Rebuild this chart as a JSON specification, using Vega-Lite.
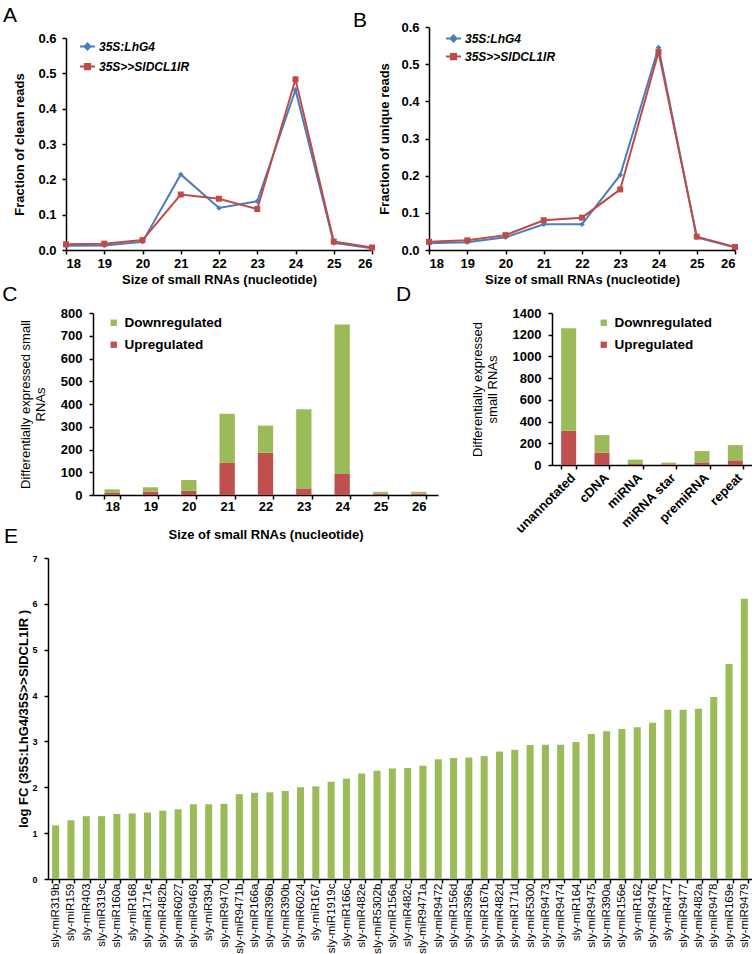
{
  "$schema": "https://vega.github.io/schema/vega-lite/v6.json",
  "background": "white",
  "padding": {"left": 2, "top": 4, "right": 0, "bottom": 0},
  "config": {
    "font": "Liberation Sans",
    "view": {"stroke": null},
    "axis": {"labelFont": "Liberation Sans", "titleFont": "Liberation Sans", "labelFontWeight": "bold", "titleFontWeight": "bold", "labelFontSize": 13, "titleFontSize": 13, "labelColor": "#000", "titleColor": "#000", "domainColor": "#000", "tickColor": "#000", "grid": false, "domainWidth": 1.5, "tickWidth": 1.5, "tickSize": 4, "labelPadding": 3, "titlePadding": 3},
    "title": {"font": "Liberation Sans", "fontSize": 21, "fontWeight": "normal", "anchor": "start", "frame": "bounds", "color": "#000"},
    "legend": {"labelFont": "Liberation Sans", "labelFontWeight": "bold", "labelFontSize": 12, "labelColor": "#000", "title": null, "padding": 0}
  },
  "datasets": {
    "empty": [],
    "clean": [
      {"size": 18, "genotype": "35S:LhG4", "value": 0.012},
      {"size": 19, "genotype": "35S:LhG4", "value": 0.013},
      {"size": 20, "genotype": "35S:LhG4", "value": 0.023},
      {"size": 21, "genotype": "35S:LhG4", "value": 0.214},
      {"size": 22, "genotype": "35S:LhG4", "value": 0.119},
      {"size": 23, "genotype": "35S:LhG4", "value": 0.138},
      {"size": 24, "genotype": "35S:LhG4", "value": 0.453},
      {"size": 25, "genotype": "35S:LhG4", "value": 0.020},
      {"size": 26, "genotype": "35S:LhG4", "value": 0.005},
      {"size": 18, "genotype": "35S>>SlDCL1IR", "value": 0.016},
      {"size": 19, "genotype": "35S>>SlDCL1IR", "value": 0.018},
      {"size": 20, "genotype": "35S>>SlDCL1IR", "value": 0.028},
      {"size": 21, "genotype": "35S>>SlDCL1IR", "value": 0.157},
      {"size": 22, "genotype": "35S>>SlDCL1IR", "value": 0.145},
      {"size": 23, "genotype": "35S>>SlDCL1IR", "value": 0.116},
      {"size": 24, "genotype": "35S>>SlDCL1IR", "value": 0.483},
      {"size": 25, "genotype": "35S>>SlDCL1IR", "value": 0.024},
      {"size": 26, "genotype": "35S>>SlDCL1IR", "value": 0.007}
    ],
    "unique": [
      {"size": 18, "genotype": "35S:LhG4", "value": 0.018},
      {"size": 19, "genotype": "35S:LhG4", "value": 0.021},
      {"size": 20, "genotype": "35S:LhG4", "value": 0.034},
      {"size": 21, "genotype": "35S:LhG4", "value": 0.069},
      {"size": 22, "genotype": "35S:LhG4", "value": 0.069},
      {"size": 23, "genotype": "35S:LhG4", "value": 0.202},
      {"size": 24, "genotype": "35S:LhG4", "value": 0.545},
      {"size": 25, "genotype": "35S:LhG4", "value": 0.034},
      {"size": 26, "genotype": "35S:LhG4", "value": 0.007},
      {"size": 18, "genotype": "35S>>SlDCL1IR", "value": 0.022},
      {"size": 19, "genotype": "35S>>SlDCL1IR", "value": 0.026},
      {"size": 20, "genotype": "35S>>SlDCL1IR", "value": 0.040},
      {"size": 21, "genotype": "35S>>SlDCL1IR", "value": 0.080},
      {"size": 22, "genotype": "35S>>SlDCL1IR", "value": 0.087},
      {"size": 23, "genotype": "35S>>SlDCL1IR", "value": 0.163},
      {"size": 24, "genotype": "35S>>SlDCL1IR", "value": 0.533},
      {"size": 25, "genotype": "35S>>SlDCL1IR", "value": 0.036},
      {"size": 26, "genotype": "35S>>SlDCL1IR", "value": 0.008}
    ],
    "bysize": [
      {"size": "18", "reg": "Upregulated", "count": 9},
      {"size": "18", "reg": "Downregulated", "count": 16},
      {"size": "19", "reg": "Upregulated", "count": 15},
      {"size": "19", "reg": "Downregulated", "count": 19},
      {"size": "20", "reg": "Upregulated", "count": 18},
      {"size": "20", "reg": "Downregulated", "count": 48},
      {"size": "21", "reg": "Upregulated", "count": 141},
      {"size": "21", "reg": "Downregulated", "count": 216},
      {"size": "22", "reg": "Upregulated", "count": 186},
      {"size": "22", "reg": "Downregulated", "count": 119},
      {"size": "23", "reg": "Upregulated", "count": 29},
      {"size": "23", "reg": "Downregulated", "count": 348},
      {"size": "24", "reg": "Upregulated", "count": 92},
      {"size": "24", "reg": "Downregulated", "count": 657},
      {"size": "25", "reg": "Upregulated", "count": 5},
      {"size": "25", "reg": "Downregulated", "count": 9},
      {"size": "26", "reg": "Upregulated", "count": 6},
      {"size": "26", "reg": "Downregulated", "count": 8}
    ],
    "bytype": [
      {"type": "unannotated", "reg": "Upregulated", "count": 315},
      {"type": "unannotated", "reg": "Downregulated", "count": 945},
      {"type": "cDNA", "reg": "Upregulated", "count": 113},
      {"type": "cDNA", "reg": "Downregulated", "count": 162},
      {"type": "miRNA", "reg": "Upregulated", "count": 9},
      {"type": "miRNA", "reg": "Downregulated", "count": 40},
      {"type": "miRNA star", "reg": "Upregulated", "count": 6},
      {"type": "miRNA star", "reg": "Downregulated", "count": 15},
      {"type": "premiRNA", "reg": "Upregulated", "count": 24},
      {"type": "premiRNA", "reg": "Downregulated", "count": 104},
      {"type": "repeat", "reg": "Upregulated", "count": 43},
      {"type": "repeat", "reg": "Downregulated", "count": 140}
    ],
    "mirna": [
      {"name": "sly-miR319b", "fc": 1.17},
      {"name": "sly-miR159", "fc": 1.28},
      {"name": "sly-miR403", "fc": 1.37},
      {"name": "sly-miR319c", "fc": 1.37},
      {"name": "sly-miR160a", "fc": 1.42},
      {"name": "sly-miR168", "fc": 1.43},
      {"name": "sly-miR171e", "fc": 1.45},
      {"name": "sly-miR482b", "fc": 1.49},
      {"name": "sly-miR6027", "fc": 1.52},
      {"name": "sly-miR9469", "fc": 1.63},
      {"name": "sly-miR394", "fc": 1.63},
      {"name": "sly-miR9470", "fc": 1.64},
      {"name": "sly-miR9471b", "fc": 1.85},
      {"name": "sly-miR166a", "fc": 1.88},
      {"name": "sly-miR396b", "fc": 1.89},
      {"name": "sly-miR390b", "fc": 1.92},
      {"name": "sly-miR6024", "fc": 2.0},
      {"name": "sly-miR167", "fc": 2.02},
      {"name": "sly-miR1919c", "fc": 2.12},
      {"name": "sly-miR166c", "fc": 2.19},
      {"name": "sly-miR482e", "fc": 2.3},
      {"name": "sly-miR5302b", "fc": 2.36},
      {"name": "sly-miR156a", "fc": 2.41},
      {"name": "sly-miR482c", "fc": 2.42},
      {"name": "sly-miR9471a", "fc": 2.47},
      {"name": "sly-miR9472", "fc": 2.61},
      {"name": "sly-miR156d", "fc": 2.64},
      {"name": "sly-miR396a", "fc": 2.65},
      {"name": "sly-miR167b", "fc": 2.68},
      {"name": "sly-miR482d", "fc": 2.78},
      {"name": "sly-miR171d", "fc": 2.82},
      {"name": "sly-miR5300", "fc": 2.92},
      {"name": "sly-miR9473", "fc": 2.93},
      {"name": "sly-miR9474", "fc": 2.93},
      {"name": "sly-miR164", "fc": 2.99},
      {"name": "sly-miR9475", "fc": 3.16},
      {"name": "sly-miR390a", "fc": 3.22},
      {"name": "sly-miR156e", "fc": 3.27},
      {"name": "sly-miR162", "fc": 3.31},
      {"name": "sly-miR9476", "fc": 3.41},
      {"name": "sly-miR477", "fc": 3.69},
      {"name": "sly-miR9477", "fc": 3.69},
      {"name": "sly-miR482a", "fc": 3.71},
      {"name": "sly-miR9478", "fc": 3.97},
      {"name": "sly-miR169e", "fc": 4.69},
      {"name": "sly-miR9479", "fc": 6.11}
    ]
  },
  "vconcat": [
    {
      "vconcat": [
        {
          "hconcat": [
            {"width": 24, "height": 1, "data": {"name": "empty"}, "mark": "point", "encoding": {}},
            {
              "title": {"text": "A", "dx": -11, "offset": 1.5},
              "width": 306, "height": 223,
              "data": {"name": "clean"},
              "encoding": {
                "x": {"field": "size", "type": "quantitative", "scale": {"domain": [18, 26], "nice": false}, "axis": {"values": [18, 19, 20, 21, 22, 23, 24, 25, 26], "format": "d", "title": "Size of small RNAs (nucleotide)"}},
                "y": {"field": "value", "type": "quantitative", "scale": {"domain": [0, 0.6], "nice": false, "range": [223, 11]}, "axis": {"values": [0, 0.1, 0.2, 0.3, 0.4, 0.5, 0.6], "format": ".1f", "title": "Fraction of clean reads", "labelPadding": 6, "titlePadding": 11}},
                "color": {"field": "genotype", "type": "nominal", "scale": {"domain": ["35S:LhG4", "35S>>SlDCL1IR"], "range": ["#4a7ebb", "#be4b48"]}, "legend": {"orient": "none", "legendX": 13, "legendY": 11, "labelFontStyle": "italic", "symbolSize": 225, "symbolStrokeWidth": 2, "rowPadding": 4, "labelOffset": 3, "symbolType": "M-1,0H1M-0.35,-0.35H0.35V0.35H-0.35Z", "encode": {"symbols": {"update": {"shape": {"signal": "datum.value === '35S:LhG4' ? 'M-1,0H1M0,-0.4L0.4,0L0,0.4L-0.4,0Z' : 'M-1,0H1M-0.35,-0.35H0.35V0.35H-0.35Z'"}, "fill": {"signal": "datum.value === '35S:LhG4' ? '#4a7ebb' : '#be4b48'"}, "fillOpacity": {"value": 1}}}}}}
              },
              "layer": [
                {"mark": {"type": "line", "strokeWidth": 2}},
                {"transform": [{"filter": "datum.genotype === '35S:LhG4'"}], "mark": {"type": "point", "shape": "diamond", "filled": true, "opacity": 1, "size": 30}},
                {"transform": [{"filter": "datum.genotype === '35S>>SlDCL1IR'"}], "mark": {"type": "point", "shape": "square", "filled": true, "opacity": 1, "size": 36}}
              ]
            },
            {
              "title": {"text": "B", "dx": -26, "offset": -9.5},
              "width": 306, "height": 223,
              "data": {"name": "unique"},
              "encoding": {
                "x": {"field": "size", "type": "quantitative", "scale": {"domain": [18, 26], "nice": false}, "axis": {"values": [18, 19, 20, 21, 22, 23, 24, 25, 26], "format": "d", "title": "Size of small RNAs (nucleotide)"}},
                "y": {"field": "value", "type": "quantitative", "scale": {"domain": [0, 0.6], "nice": false}, "axis": {"values": [0, 0.1, 0.2, 0.3, 0.4, 0.5, 0.6], "format": ".1f", "title": "Fraction of unique reads", "labelPadding": 6, "titlePadding": 9}},
                "color": {"field": "genotype", "type": "nominal", "scale": {"domain": ["35S:LhG4", "35S>>SlDCL1IR"], "range": ["#4a7ebb", "#be4b48"]}, "legend": {"orient": "none", "legendX": 16, "legendY": 3, "labelFontStyle": "italic", "symbolSize": 225, "symbolStrokeWidth": 2, "rowPadding": 2, "labelOffset": 3, "symbolType": "M-1,0H1M-0.35,-0.35H0.35V0.35H-0.35Z", "encode": {"symbols": {"update": {"shape": {"signal": "datum.value === '35S:LhG4' ? 'M-1,0H1M0,-0.4L0.4,0L0,0.4L-0.4,0Z' : 'M-1,0H1M-0.35,-0.35H0.35V0.35H-0.35Z'"}, "fill": {"signal": "datum.value === '35S:LhG4' ? '#4a7ebb' : '#be4b48'"}, "fillOpacity": {"value": 1}}}}}}
              },
              "layer": [
                {"mark": {"type": "line", "strokeWidth": 2}},
                {"transform": [{"filter": "datum.genotype === '35S:LhG4'"}], "mark": {"type": "point", "shape": "diamond", "filled": true, "opacity": 1, "size": 30}},
                {"transform": [{"filter": "datum.genotype === '35S>>SlDCL1IR'"}], "mark": {"type": "point", "shape": "square", "filled": true, "opacity": 1, "size": 36}}
              ]
            }
          ],
          "spacing": -24,
          "resolve": {"scale": {"color": "independent"}, "legend": {"color": "independent"}}
        },
        {
          "hconcat": [
            {"width": 42, "height": 1, "data": {"name": "empty"}, "mark": "point", "encoding": {}},
            {
              "title": {"text": "C", "dx": -17, "offset": 2.5},
              "width": 345, "height": 182,
              "data": {"name": "bysize"},
              "mark": {"type": "bar"},
              "encoding": {
                "x": {"field": "size", "type": "ordinal", "scale": {"paddingInner": 0.6, "paddingOuter": 0.3}, "axis": {"labelAngle": 0, "tickBand": "extent", "title": "Size of small RNAs (nucleotide)", "labelPadding": 1, "titlePadding": 15}},
                "y": {"field": "count", "type": "quantitative", "stack": "zero", "scale": {"domain": [0, 800], "nice": false}, "axis": {"values": [0, 100, 200, 300, 400, 500, 600, 700, 800], "format": "d", "title": ["Differentially expressed small", "RNAs"], "titleFontWeight": "normal", "labelPadding": 7, "titlePadding": 13}},
                "color": {"field": "reg", "type": "nominal", "scale": {"domain": ["Downregulated", "Upregulated"], "range": ["#9bbb59", "#c0504d"]}, "legend": {"orient": "none", "legendX": 14, "legendY": 3, "labelFontSize": 13.5, "symbolType": "square", "symbolSize": 40, "rowPadding": 7, "labelOffset": 4}},
                "order": {"field": "reg", "sort": "descending"}
              }
            },
            {
              "title": {"text": "D", "dx": -75, "offset": 2},
              "width": 200, "height": 152,
              "data": {"name": "bytype"},
              "mark": {"type": "bar"},
              "encoding": {
                "x": {"field": "type", "type": "nominal", "sort": null, "scale": {"paddingInner": 0.55, "paddingOuter": 0.275}, "axis": {"labelAngle": -45, "tickBand": "extent", "title": null, "labelPadding": 2}},
                "y": {"field": "count", "type": "quantitative", "stack": "zero", "scale": {"domain": [0, 1400], "nice": false}, "axis": {"values": [0, 200, 400, 600, 800, 1000, 1200, 1400], "format": "d", "title": ["Differentially expressed", "small RNAs"], "titleFontWeight": "normal", "labelPadding": 7, "titlePadding": 13}},
                "color": {"field": "reg", "type": "nominal", "scale": {"domain": ["Downregulated", "Upregulated"], "range": ["#9bbb59", "#c0504d"]}, "legend": {"orient": "none", "legendX": 45, "legendY": 3, "labelFontSize": 13.5, "symbolType": "square", "symbolSize": 40, "rowPadding": 7, "labelOffset": 4}},
                "order": {"field": "reg", "sort": "descending"}
              }
            }
          ],
          "spacing": -42,
          "resolve": {"scale": {"color": "independent"}, "legend": {"color": "independent"}}
        }
      ],
      "spacing": -3
    },
    {
      "hconcat": [
        {"width": 1, "height": 1, "data": {"name": "empty"}, "mark": "point", "encoding": {}},
        {
          "title": {"text": "E", "dx": -14, "offset": 7.5},
          "width": 704, "height": 321,
          "data": {"name": "mirna"},
          "mark": {"type": "bar", "color": "#9bbb59"},
          "encoding": {
            "x": {"field": "name", "type": "nominal", "sort": null, "scale": {"paddingInner": 0.54, "paddingOuter": 0.27}, "axis": {"labelAngle": -90, "tickBand": "extent", "title": null, "labelFontWeight": "normal", "labelFontSize": 11.5, "tickSize": 4, "labelPadding": 0}},
            "y": {"field": "fc", "type": "quantitative", "scale": {"domain": [0, 7], "nice": false}, "axis": {"values": [0, 1, 2, 3, 4, 5, 6, 7], "title": "log FC (35S:LhG4/35S>>SlDCL1IR )", "labelFontSize": 9, "labelPadding": 7, "titlePadding": 1}}
          }
        }
      ],
      "spacing": 0
    }
  ],
  "spacing": -16
}
